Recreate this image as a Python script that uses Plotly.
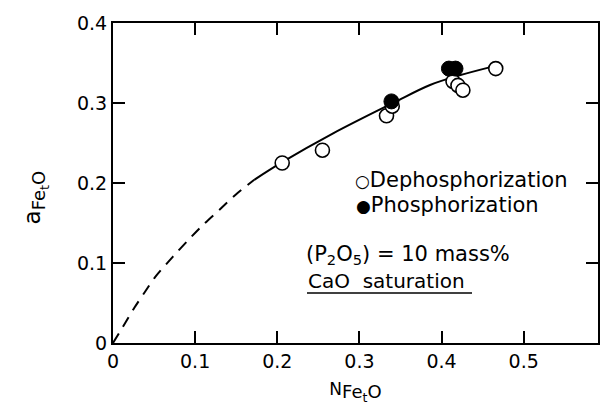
import plotly.graph_objects as go

# --- data ---
deph_x = [0.206, 0.255, 0.333, 0.340, 0.414, 0.420, 0.426, 0.466]
deph_y = [0.225, 0.241, 0.284, 0.296, 0.327, 0.322, 0.316, 0.343]

phos_x = [0.339, 0.409, 0.417]
phos_y = [0.302, 0.343, 0.343]

dash_x = [0.0, 0.012, 0.026, 0.039, 0.051, 0.073, 0.091, 0.110, 0.130, 0.150, 0.172]
dash_y = [0.0, 0.020, 0.044, 0.064, 0.082, 0.108, 0.128, 0.148, 0.167, 0.186, 0.204]

solid_x = [0.172, 0.206, 0.268, 0.341, 0.386, 0.420, 0.462]
solid_y = [0.204, 0.226, 0.262, 0.300, 0.3225, 0.334, 0.3455]

x_ticks = [0, 0.1, 0.2, 0.3, 0.4, 0.5]
x_labels = ["0", "0.1", "0.2", "0.3", "0.4", "0.5"]
y_ticks = [0, 0.1, 0.2, 0.3, 0.4]
y_labels = ["0", "0.1", "0.2", "0.3", "0.4"]

FONT = "DejaVu Sans"

fig = go.Figure()
fig.add_trace(go.Scatter(x=dash_x, y=dash_y, mode="lines",
                         line=dict(color="black", width=2, dash="11px,8px", shape="spline", smoothing=0.8),
                         showlegend=False, hoverinfo="skip"))
fig.add_trace(go.Scatter(x=solid_x, y=solid_y, mode="lines", line=dict(color="black", width=2, shape="spline"),
                         showlegend=False, hoverinfo="skip"))
fig.add_trace(go.Scatter(x=deph_x, y=deph_y, mode="markers", name="Dephosphorization",
                         marker=dict(symbol="circle", size=14, color="white", line=dict(color="black", width=1.6)),
                         showlegend=False))
fig.add_trace(go.Scatter(x=phos_x, y=phos_y, mode="markers", name="Phosphorization",
                         marker=dict(symbol="circle", size=15, color="black", line=dict(color="black", width=1)),
                         showlegend=False))

W, H = 600, 405
L, R, T, B = 113, 2, 23, 62
pw, ph = W - L - R, H - T - B


def px(x):
    return (x - L) / pw


def py(y):
    return (H - B - y) / ph


ann = [
    dict(text="<span style='font-size:17px'>○</span>Dephosphorization", x=px(353), y=py(180), size=21),
    dict(text="<span style='font-size:17px'>●</span>Phosphorization", x=px(354), y=py(205), size=21),
    dict(text="(P<sub>2</sub>O<sub>5</sub>) = 10 mass%", x=px(304), y=py(255), size=21),
    dict(text="CaO  saturation", x=px(306), y=py(281), size=20),
]
annotations = [dict(xref="paper", yref="paper", xanchor="left", yanchor="middle", showarrow=False,
                    text=a["text"], x=a["x"], y=a["y"],
                    font=dict(family=FONT, size=a["size"], color="black")) for a in ann]

fig.update_layout(
    width=W, height=H,
    margin=dict(l=L, r=R, t=T, b=B, autoexpand=False),
    paper_bgcolor="white", plot_bgcolor="white",
    font=dict(family=FONT, color="black", size=19),
    annotations=annotations,
    shapes=[dict(type="line", xref="paper", yref="paper", x0=px(307), x1=px(472), y0=py(293), y1=py(293),
                 line=dict(color="black", width=1.5))],
    xaxis=dict(range=[0, 0.5905], tickvals=x_ticks, ticktext=x_labels, ticks="inside", ticklen=12, tickwidth=1.5,
               tickcolor="black", showline=True, linecolor="black", linewidth=2, mirror="ticks",
               showgrid=False, zeroline=False, tickfont=dict(size=19),
               title=dict(text="N<sub><span style='font-size:18px'>Fe<sub>t</sub>O</span></sub>",
                          font=dict(size=17), standoff=17)),
    yaxis=dict(range=[0, 0.4], tickvals=y_ticks, ticktext=y_labels, ticks="inside", ticklen=12, tickwidth=1.5,
               tickcolor="black", showline=True, linecolor="black", linewidth=2, mirror="ticks",
               showgrid=False, zeroline=False, tickfont=dict(size=19),
               title=dict(text="a<sub><span style='font-size:18px'>Fe<sub>t</sub>O</span></sub>&nbsp;&nbsp;&nbsp;&nbsp;",
                          font=dict(size=23), standoff=30)),
)

fig.write_html("out.html")
